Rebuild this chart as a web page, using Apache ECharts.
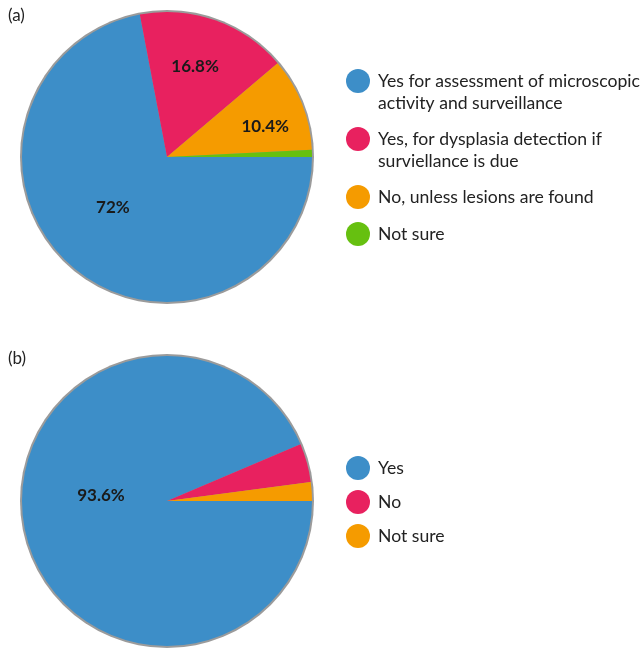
<!DOCTYPE html>
<html>
<head>
<meta charset="utf-8">
<script src="https://cdn.jsdelivr.net/npm/echarts@6/dist/echarts.min.js"></script>
<style>
  html, body { margin: 0; padding: 0; background: #fff; }
  #main { width: 643px; height: 652px; }
</style>
</head>
<body>
<div id="main"></div>
<script>
// (a) 是否需要活检
var namesA = [
    'Yes for assessment of microscopic\nactivity and surveillance',
    'Yes, for dysplasia detection if\nsurviellance is due',
    'No, unless lesions are found',
    'Not sure'
];
var valuesA = [72, 16.8, 10.4, 0.8];

// (b)
var namesB = ['Yes', 'No', 'Not sure '];
var valuesB = [93.6, 4.3, 2.1];

var colors = ['#3d8ec8', '#e8215f', '#f59b00', '#66c010'];

(function(){
    var font = 'Lato, "Source Sans Pro", "Noto Sans", sans-serif';
    var chart = echarts.init(document.getElementById('main'), null, {renderer: 'canvas'});

    // 标签微调(原图标签不在半径中点)
    var shiftA = [[-6, -8], [3, -19], [28, -3], [0, 0]];
    var shiftB = [[8, -21], [0, 0], [0, 0]];

    function buildData(names, values, shift){
        return values.map(function(v, i){
            return {
                name: names[i],
                value: v,
                itemStyle: {color: colors[i]},
                label: {show: v >= 5, offset: shift[i]}
            };
        });
    }

    function pie(center, names, values, shift){
        return {
            type: 'pie',
            center: center,
            radius: 145,
            startAngle: 0,
            clockwise: true,
            avoidLabelOverlap: false,
            animation: false,
            itemStyle: {borderWidth: 0},
            label: {
                position: 'inside',
                fontFamily: font,
                fontSize: 17,
                fontWeight: 'bold',
                color: '#1a1a1a',
                formatter: function(p){ return p.value + '%'; }
            },
            labelLine: {show: false},
            emphasis: {disabled: true},
            data: buildData(names, values, shift)
        };
    }

    // 灰色外圈
    function ring(center){
        return {
            type: 'pie',
            center: center,
            radius: 147,
            silent: true,
            animation: false,
            label: {show: false},
            labelLine: {show: false},
            emphasis: {disabled: true},
            data: [{name: '_ring', value: 1, itemStyle: {color: '#9b9b9b'}}]
        };
    }

    var textBase = {fontFamily: font, fontSize: 17.6, color: '#222', lineHeight: 22, padding: [0, 0, 0, 3]};

    // 两行的图例: 前面加空行, 让圆点对齐第一行
    var legends = [
        {top: 48, data: [namesA[0]], two: true},
        {top: 106, data: [namesA[1]], two: true},
        {top: 185, data: [namesA[2], namesA[3]], gap: 13},
        {top: 456, data: namesB, gap: 10}
    ].map(function(l){
        return {
            orient: 'vertical',
            left: 346,
            top: l.top,
            padding: 0,
            itemGap: l.gap || 10,
            itemWidth: 24,
            itemHeight: 24,
            icon: 'circle',
            selectedMode: false,
            data: l.data,
            formatter: function(name){
                return l.two ? '\n' + name : name;
            },
            textStyle: textBase
        };
    });

    var option = {
        backgroundColor: '#fff',
        animation: false,
        title: [
            {text: '(a)', left: 3, top: 2, textStyle: {fontFamily: font, fontSize: 17, fontWeight: 'normal', color: '#222'}},
            {text: '(b)', left: 3, top: 345, textStyle: {fontFamily: font, fontSize: 17, fontWeight: 'normal', color: '#222'}}
        ],
        legend: legends,
        series: [
            ring([167, 157]),
            pie([167, 157], namesA, valuesA, shiftA),
            ring([167, 501]),
            pie([167, 501], namesB, valuesB, shiftB)
        ]
    };
    chart.setOption(option);
})();
</script>
</body>
</html>
